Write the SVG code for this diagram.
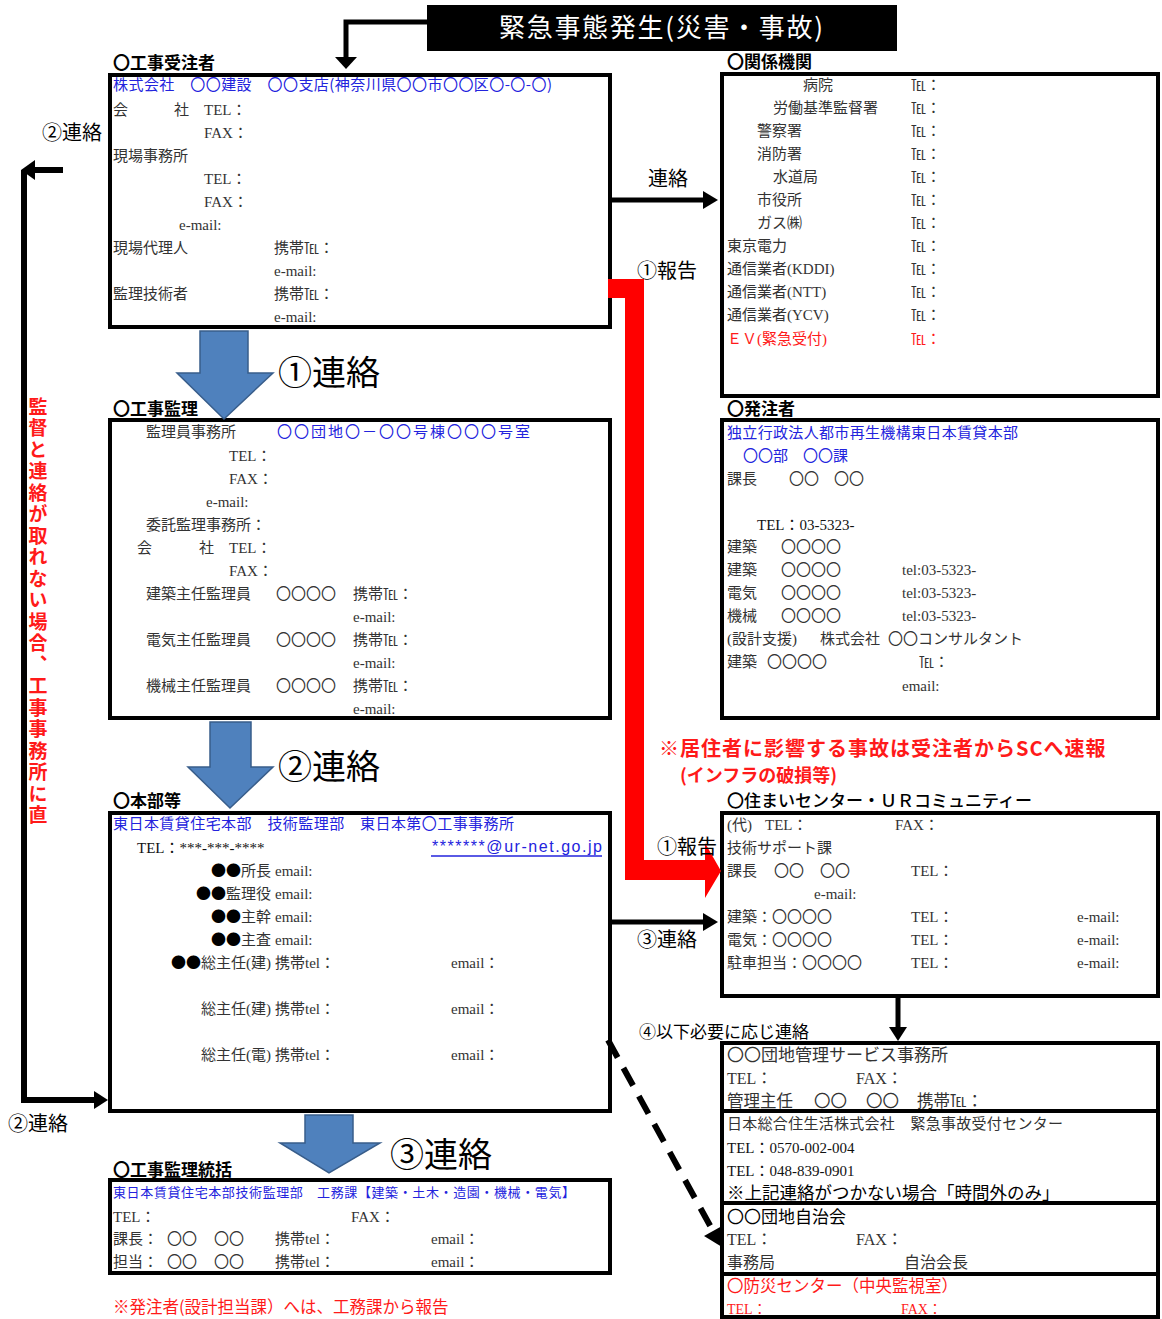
<svg xmlns="http://www.w3.org/2000/svg" width="1162" height="1319" viewBox="0 0 1162 1319">
<style>
text{font-family:"Liberation Serif","Noto Sans CJK JP",serif;font-size:15px;fill:#333}
.g{font-family:"Noto Sans CJK JP","Liberation Sans",sans-serif;fill:#000}
.b{fill:#2323dd}
.r{fill:#ff1a1a}
.dot{font-family:"Noto Sans CJK JP",sans-serif;fill:#000}
.hd{font-family:"Noto Sans CJK JP","Liberation Sans",sans-serif;font-size:17px;font-weight:bold;fill:#000}
.box{fill:#fff;stroke:#000;stroke-width:4}
.lbl{font-family:"Noto Sans CJK JP","Liberation Sans",sans-serif;font-size:20px;fill:#000}
.big{font-family:"Noto Sans CJK JP","Liberation Sans",sans-serif;font-size:34px;fill:#000}
.ln{stroke:#000;stroke-width:5;fill:none}
.blu{fill:#4f81bd;stroke:#385d8a;stroke-width:1.5}
</style>
<rect width="1162" height="1319" fill="#fff"/>

<g id="title">
<rect x="427" y="5" width="470" height="46" fill="#000"/>
<text x="499" y="37" class="g" style="font-size:26px;fill:#fff" textLength="324">緊急事態発生(災害・事故)</text>
</g>

<g id="n-contractor">
<text x="113" y="69" class="hd">〇工事受注者</text>
<rect x="110" y="75" width="500" height="252" class="box"/>
<text x="113" y="90" class="g b" textLength="439">株式会社　〇〇建設　〇〇支店(神奈川県〇〇市〇〇区〇-〇-〇)</text>
<text x="113" y="115">会</text><text x="174" y="115">社</text><text x="204" y="115">TEL：</text>
<text x="204" y="138">FAX：</text>
<text x="113" y="161">現場事務所</text>
<text x="204" y="184">TEL：</text>
<text x="204" y="207">FAX：</text>
<text x="179" y="230">e-mail:</text>
<text x="113" y="253">現場代理人</text><text x="274" y="253">携帯℡：</text>
<text x="274" y="276">e-mail:</text>
<text x="113" y="299">監理技術者</text><text x="274" y="299">携帯℡：</text>
<text x="274" y="322">e-mail:</text>
</g>

<g id="n-agencies">
<text x="727" y="68" class="hd">〇関係機関</text>
<rect x="722" y="74" width="436" height="322" class="box"/>
<text x="803" y="90">病院</text><text x="911" y="90">℡：</text>
<text x="773" y="113">労働基準監督署</text><text x="911" y="113">℡：</text>
<text x="757" y="136">警察署</text><text x="911" y="136">℡：</text>
<text x="757" y="159">消防署</text><text x="911" y="159">℡：</text>
<text x="773" y="182">水道局</text><text x="911" y="182">℡：</text>
<text x="757" y="205">市役所</text><text x="911" y="205">℡：</text>
<text x="757" y="228">ガス㈱</text><text x="911" y="228">℡：</text>
<text x="727" y="251">東京電力</text><text x="911" y="251">℡：</text>
<text x="727" y="274">通信業者(KDDI)</text><text x="911" y="274">℡：</text>
<text x="727" y="297">通信業者(NTT)</text><text x="911" y="297">℡：</text>
<text x="727" y="320">通信業者(YCV)</text><text x="911" y="320">℡：</text>
<text x="727" y="344" class="r">ＥＶ(緊急受付)</text><text x="911" y="344" class="r">℡：</text>
</g>

<g id="n-supervision">
<text x="113" y="415" class="hd">〇工事監理</text>
<rect x="110" y="420" width="500" height="298" class="box"/>
<text x="146" y="437">監理員事務所</text>
<text x="277" y="437" class="g b" textLength="253">〇〇団地〇－〇〇号棟〇〇〇号室</text>
<text x="229" y="461">TEL：</text>
<text x="229" y="484">FAX：</text>
<text x="206" y="507">e-mail:</text>
<text x="146" y="530">委託監理事務所：</text>
<text x="137" y="553">会</text><text x="199" y="553">社</text><text x="229" y="553">TEL：</text>
<text x="229" y="576">FAX：</text>
<text x="146" y="599">建築主任監理員</text><text x="276" y="599">〇〇〇〇</text><text x="353" y="599">携帯℡：</text>
<text x="353" y="622">e-mail:</text>
<text x="146" y="645">電気主任監理員</text><text x="276" y="645">〇〇〇〇</text><text x="353" y="645">携帯℡：</text>
<text x="353" y="668">e-mail:</text>
<text x="146" y="691">機械主任監理員</text><text x="276" y="691">〇〇〇〇</text><text x="353" y="691">携帯℡：</text>
<text x="353" y="714">e-mail:</text>
</g>

<g id="n-client">
<text x="727" y="415" class="hd">〇発注者</text>
<rect x="722" y="420" width="436" height="298" class="box"/>
<text x="727" y="438" class="g b" textLength="291">独立行政法人都市再生機構東日本賃貸本部</text>
<text x="743" y="461" class="g b">〇〇部　〇〇課</text>
<text x="727" y="484">課長</text><text x="789" y="484">〇〇　〇〇</text>
<text x="757" y="530" style="fill:#111">TEL：03-5323-</text>
<text x="727" y="552">建築</text><text x="781" y="552">〇〇〇〇</text>
<text x="727" y="575">建築</text><text x="781" y="575">〇〇〇〇</text><text x="902" y="575">tel:03-5323-</text>
<text x="727" y="598">電気</text><text x="781" y="598">〇〇〇〇</text><text x="902" y="598">tel:03-5323-</text>
<text x="727" y="621">機械</text><text x="781" y="621">〇〇〇〇</text><text x="902" y="621">tel:03-5323-</text>
<text x="727" y="644">(設計支援)</text><text x="820" y="644">株式会社</text><text x="888" y="644">〇〇コンサルタント</text>
<text x="727" y="667">建築</text><text x="767" y="667">〇〇〇〇</text><text x="919" y="667">℡：</text>
<text x="902" y="691">email:</text>
</g>

<g id="n-hq">
<text x="113" y="807" class="hd">〇本部等</text>
<rect x="110" y="813" width="500" height="298" class="box"/>
<text x="113" y="829" class="g b" textLength="401">東日本賃貸住宅本部　技術監理部　東日本第〇工事事務所</text>
<text x="137" y="853" style="fill:#111">TEL：***-***-****</text>
<text x="432" y="852" style="font-family:'Liberation Sans',sans-serif;font-size:16px;fill:#2323dd" textLength="170">*******@ur-net.go.jp</text>
<line x1="431" y1="856" x2="602" y2="856" stroke="#2323dd" stroke-width="1.5"/>
<text x="271" y="876" text-anchor="end"><tspan class="dot">●●</tspan>所長</text><text x="275" y="876">email:</text>
<text x="271" y="899" text-anchor="end"><tspan class="dot">●●</tspan>監理役</text><text x="275" y="899">email:</text>
<text x="271" y="922" text-anchor="end"><tspan class="dot">●●</tspan>主幹</text><text x="275" y="922">email:</text>
<text x="271" y="945" text-anchor="end"><tspan class="dot">●●</tspan>主査</text><text x="275" y="945">email:</text>
<text x="271" y="968" text-anchor="end"><tspan class="dot">●●</tspan>総主任(建)</text><text x="275" y="968">携帯tel：</text><text x="451" y="968">email：</text>
<text x="271" y="1014" text-anchor="end">総主任(建)</text><text x="275" y="1014">携帯tel：</text><text x="451" y="1014">email：</text>
<text x="271" y="1060" text-anchor="end">総主任(電)</text><text x="275" y="1060">携帯tel：</text><text x="451" y="1060">email：</text>
</g>

<g id="n-sumai">
<text x="727" y="807" class="hd" style="font-weight:500">〇住まいセンター・ＵＲコミュニティー</text>
<rect x="722" y="813" width="436" height="183" class="box"/>
<text x="727" y="830">(代)</text><text x="765" y="830">TEL：</text><text x="895" y="830">FAX：</text>
<text x="727" y="853">技術サポート課</text>
<text x="727" y="876">課長</text><text x="774" y="876">〇〇</text><text x="820" y="876">〇〇</text><text x="911" y="876">TEL：</text>
<text x="814" y="899">e-mail:</text>
<text x="727" y="922">建築：〇〇〇〇</text><text x="911" y="922">TEL：</text><text x="1077" y="922">e-mail:</text>
<text x="727" y="945">電気：〇〇〇〇</text><text x="911" y="945">TEL：</text><text x="1077" y="945">e-mail:</text>
<text x="727" y="968">駐車担当：〇〇〇〇</text><text x="911" y="968">TEL：</text><text x="1077" y="968">e-mail:</text>
</g>

<g id="n-general">
<text x="113" y="1176" class="hd">〇工事監理統括</text>
<rect x="110" y="1180" width="500" height="93" class="box"/>
<text x="113" y="1197" class="g b" style="font-size:13px" textLength="462">東日本賃貸住宅本部技術監理部　工務課【建築・土木・造園・機械・電気】</text>
<text x="113" y="1222">TEL：</text><text x="351" y="1222">FAX：</text>
<text x="113" y="1244">課長：</text><text x="167" y="1244">〇〇</text><text x="214" y="1244">〇〇</text><text x="275" y="1244">携帯tel：</text><text x="431" y="1244">email：</text>
<text x="113" y="1267">担当：</text><text x="167" y="1267">〇〇</text><text x="214" y="1267">〇〇</text><text x="275" y="1267">携帯tel：</text><text x="431" y="1267">email：</text>
</g>

<g id="n-danchi">
<rect x="722" y="1043" width="436" height="68" class="box"/>
<text x="727" y="1061" style="font-size:17px">〇〇団地管理サービス事務所</text>
<text x="727" y="1084" style="font-size:16px">TEL：</text><text x="856" y="1084" style="font-size:16px">FAX：</text>
<text x="727" y="1107" style="font-size:16.5px">管理主任</text><text x="814" y="1107" style="font-size:16.5px">〇〇</text><text x="866" y="1107" style="font-size:16.5px">〇〇</text><text x="917" y="1107" style="font-size:16.5px">携帯℡：</text>
</g>

<g id="n-jsl">
<rect x="722" y="1111" width="436" height="92" class="box"/>
<text x="727" y="1129" textLength="336">日本総合住生活株式会社　緊急事故受付センター</text>
<text x="727" y="1153" style="fill:#111">TEL：0570-002-004</text>
<text x="727" y="1176" style="fill:#111">TEL：048-839-0901</text>
<text x="727" y="1199" class="g" style="font-size:17.5px">※上記連絡がつかない場合「時間外のみ」</text>
</g>

<g id="n-jichikai">
<rect x="722" y="1203" width="436" height="71" class="box"/>
<text x="727" y="1223" class="g" style="font-size:17px">〇〇団地自治会</text>
<text x="727" y="1245" style="font-size:16px">TEL：</text><text x="856" y="1245" style="font-size:16px">FAX：</text>
<text x="727" y="1268" style="font-size:16px">事務局</text><text x="904" y="1268" style="font-size:16px">自治会長</text>
</g>

<g id="n-bousai">
<rect x="722" y="1274" width="436" height="43" class="box"/>
<text x="727" y="1292" class="g r" style="font-size:16.5px">〇防災センター（中央監視室）</text>
<text x="727" y="1314" class="r" style="font-size:14px">TEL：</text><text x="901" y="1314" class="r" style="font-size:14px">FAX：</text>
</g>

<g id="connectors">
<path d="M427,22 H346 V58" class="ln"/>
<polygon points="335,57 357,57 346,69" fill="#000"/>
<line x1="612" y1="200" x2="705" y2="200" class="ln"/>
<polygon points="703,191 718,200 703,209" fill="#000"/>
<polygon points="608,279 644,279 644,860 705,860 705,843 721,871 705,898 705,880 625,880 625,298 608,298" fill="#ff0000"/>
<polygon points="200,331 248,331 248,373 273,373 224,419 177,373 200,373" class="blu"/>
<polygon points="210,722 251,722 251,767 273,767 230,808 188,767 210,767" class="blu"/>
<polygon points="305,1115 353,1115 353,1143 380,1143 329,1173 280,1143 305,1143" class="blu"/>
<line x1="63" y1="170" x2="33" y2="170" stroke="#000" stroke-width="6"/>
<polygon points="21,170 35,160 35,180" fill="#000"/>
<path d="M24,170 V1100 H96" stroke="#000" stroke-width="6" fill="none"/>
<polygon points="94,1091 108,1100 94,1109" fill="#000"/>
<line x1="612" y1="922" x2="705" y2="922" class="ln"/>
<polygon points="703,913 718,922 703,931" fill="#000"/>
<line x1="898" y1="997" x2="898" y2="1029" class="ln"/>
<polygon points="889,1027 907,1027 898,1041" fill="#000"/>
<line x1="608" y1="1040" x2="713" y2="1231" stroke="#000" stroke-width="6" stroke-dasharray="20 12"/>
<polygon points="722,1247 722,1226 704,1236" fill="#000"/>
</g>

<g id="labels">
<text x="648" y="186" class="lbl">連絡</text>
<text x="637" y="278" class="lbl">①報告</text>
<text x="657" y="854" class="lbl r">①報告</text>
<text x="637" y="947" class="lbl">③連絡</text>
<text x="42" y="140" class="lbl">②連絡</text>
<text x="8" y="1131" class="lbl">②連絡</text>
<text x="278" y="385" class="big">①連絡</text>
<text x="278" y="779" class="big">②連絡</text>
<text x="390" y="1167" class="big">③連絡</text>
<text x="639" y="1038" class="g" style="font-size:17px">④以下必要に応じ連絡</text>
<text class="g r" style="font-weight:bold"><tspan x="659" y="756" style="font-size:20px;letter-spacing:1px">※居住者に影響する事故は受注者からSCへ速報</tspan><tspan x="680" y="782" style="font-size:18px">(インフラの破損等)</tspan></text>
<text x="38" y="397" class="g r" style="font-size:19px;font-weight:bold;writing-mode:vertical-rl;letter-spacing:2.5px">監督と連絡が取れない場合、工事事務所に直</text>
<text x="113" y="1313" class="g r" style="font-size:16.5px">※発注者(設計担当課）へは、工務課から報告</text>
</g>
</svg>
